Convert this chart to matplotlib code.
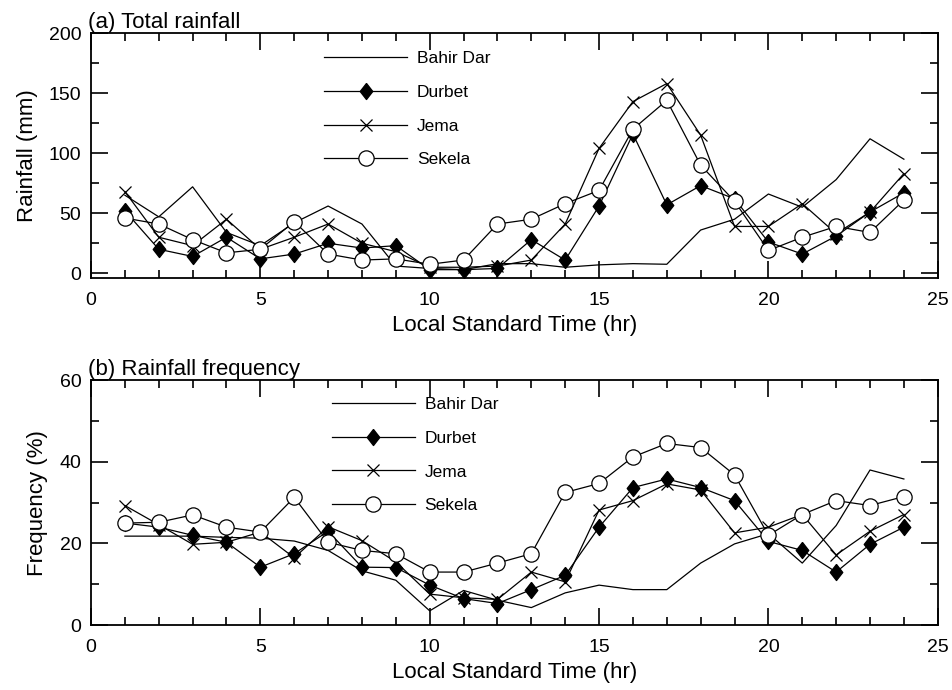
import numpy as np
import matplotlib
matplotlib.use('Agg')
import matplotlib.pyplot as plt
from matplotlib.ticker import MultipleLocator

plt.rcParams['font.family'] = ['Liberation Sans', 'DejaVu Sans']

hours = np.arange(1, 25)
stations = ['Bahir Dar', 'Durbet', 'Jema', 'Sekela']

# (a) total rainfall (mm)
rain_bahir = [65, 47, 72, 34, 23, 42, 56, 41, 6, 4, 3, 8, 8, 5, 7, 8, 7.5, 36, 45, 66, 55, 78, 112, 95]
rain_durbet = [52, 20, 14, 30, 12, 16, 25, 21, 23, 3, 3, 4, 28, 11, 56, 116, 57, 73, 62, 26, 16, 31, 51, 67]
rain_jema = [68, 30, 23, 45, 20, 30, 41, 25, 18, 5, 5, 6, 11, 41, 104, 143, 158, 115, 39, 39, 58, 33, 51, 83]
rain_sekela = [46, 41, 28, 17, 20, 43, 16, 11, 12, 7.5, 11, 41, 45, 58, 69, 120, 144, 90, 60, 19, 30, 39, 34, 61]

# (b) rainfall frequency (%)
freq_bahir = [21.8, 21.8, 21.8, 21.5, 21.3, 20.6, 18.3, 13.3, 11, 3.5, 8.5, 6.1, 4.3, 7.9, 9.8, 8.7, 8.7, 15.2, 19.9, 22.4, 15.2, 24.4, 38, 35.8]
freq_durbet = [25, 24, 22, 20.3, 14.2, 17.5, 23, 14.2, 14.1, 9.8, 6.5, 5.3, 8.7, 12.2, 24, 33.7, 35.8, 33.7, 30.5, 20.5, 18.3, 13, 19.8, 24]
freq_jema = [29.3, 24.6, 19.8, 20.3, 22.8, 16.5, 24.1, 20.7, 15.5, 7.6, 6.7, 6.3, 13, 10.6, 28.2, 30.5, 34.6, 33.1, 22.6, 24, 27.1, 17.2, 23, 27.1]
freq_sekela = [25, 25.2, 27, 24, 22.8, 31.3, 20.3, 18.3, 17.5, 13, 13, 15.2, 17.5, 32.5, 34.7, 41.2, 44.5, 43.5, 36.8, 22, 27.1, 30.5, 29.3, 31.5]

# diamond a bit wider than matplotlib's 'd'
diamond = [(0, 1), (0.78, 0), (0, -1), (-0.78, 0), (0, 1)]

styles = [dict(marker=None),
          dict(marker=diamond, markersize=11.5, markerfacecolor='black'),
          dict(marker='x', markersize=9, markeredgewidth=0.9),
          dict(marker='o', markersize=11, markerfacecolor='white', markeredgewidth=0.9)]

fig = plt.figure(figsize=(9.53, 6.9), dpi=100)
ax1 = fig.add_axes([0.0955, 0.597, 0.8885, 0.355])
ax2 = fig.add_axes([0.0955, 0.094, 0.8885, 0.355])


def draw(ax, series, ylim, ymaj, ymin, ylabel, title, legend_anchor):
    for name, vals, st in zip(stations, series, styles):
        ax.plot(hours, vals, color='black', linewidth=0.9, label=name, **st)
    ax.set_xlim(0, 25)
    ax.set_ylim(*ylim)
    ax.xaxis.set_major_locator(MultipleLocator(5))
    ax.xaxis.set_minor_locator(MultipleLocator(1))
    ax.yaxis.set_major_locator(MultipleLocator(ymaj))
    ax.yaxis.set_minor_locator(MultipleLocator(ymin))
    ax.tick_params(which='both', direction='in', top=True, right=True, labelsize=14, width=1.2)
    ax.tick_params(which='major', length=12)
    ax.tick_params(which='minor', length=6)
    ax.tick_params(axis='x', which='major', pad=10)
    ax.tick_params(axis='y', which='major', pad=7)
    for s in ax.spines.values():
        s.set_linewidth(1.3)
    ax.set_xlabel('Local Standard Time (hr)', fontsize=16, labelpad=4)
    ax.set_ylabel(ylabel, fontsize=16, labelpad=8)
    ax.set_title(title, loc='left', fontsize=16, pad=3, x=-0.004)
    ax.legend(loc='upper left', bbox_to_anchor=legend_anchor, frameon=False,
              fontsize=12.5, handlelength=4.8, handletextpad=0.55, labelspacing=1.07,
              numpoints=1, borderaxespad=0)


draw(ax1, [rain_bahir, rain_durbet, rain_jema, rain_sekela], (-4, 200), 50, 25,
     'Rainfall (mm)', '(a) Total rainfall', (0.267, 0.955))
draw(ax2, [freq_bahir, freq_durbet, freq_jema, freq_sekela], (0, 60), 20, 10,
     'Frequency (%)', '(b) Rainfall frequency', (0.276, 0.96))

ax1.set_yticks([0, 50, 100, 150, 200])
ax1.set_ylim(-4, 200)

fig.savefig('out.png', dpi=100)
